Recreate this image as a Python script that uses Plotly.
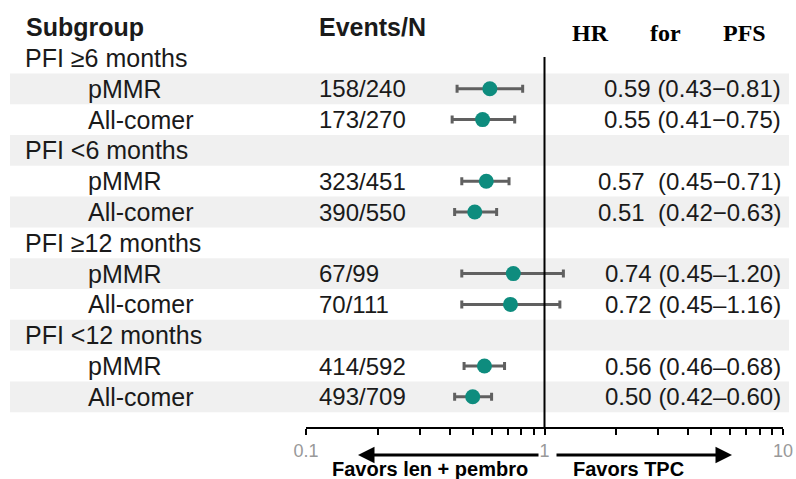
import plotly.graph_objects as go

W, H = 796, 479

groups = ["PFI \u22656 months", "PFI <6 months", "PFI \u226512 months", "PFI <12 months"]
subgroups = ["pMMR", "All-comer"]
events = ["158/240", "173/270", "323/451", "390/550", "67/99", "70/111", "414/592", "493/709"]
hr = [0.59, 0.55, 0.57, 0.51, 0.74, 0.72, 0.56, 0.50]
lo = [0.43, 0.41, 0.45, 0.42, 0.45, 0.45, 0.46, 0.42]
hi = [0.81, 0.75, 0.71, 0.63, 1.20, 1.16, 0.68, 0.60]
hr_text = ["0.59 (0.43\u22120.81)", "0.55 (0.41\u22120.75)",
           "0.57  (0.45\u22120.71)", "0.51  (0.42\u22120.63)",
           "0.74 (0.45\u20131.20)", "0.72 (0.45\u20131.16)",
           "0.56 (0.46\u20130.68)", "0.50 (0.42\u20130.60)"]
tick_vals = [0.1, 0.2, 0.3, 0.4, 0.5, 0.6, 0.7, 0.8, 0.9, 1, 2, 3, 4, 5, 6, 7, 8, 9, 10]
tick_text = ["0.1", "", "", "", "", "", "", "", "", "1", "", "", "", "", "", "", "", "", "10"]

# row layout: group row then two subgroup rows
row_of_group = [0, 3, 6, 9]
data_rows = []
for g in range(4):
    data_rows += [row_of_group[g] + 1, row_of_group[g] + 2]

px_row0, pitch = 58.0, 30.8
y_top = (0 - px_row0) / pitch
y_bot = (H - px_row0) / pitch

def px(x):
    return x / W

def py(y):
    return 1 - y / H

SANS = "Liberation Sans, Arial, sans-serif"

fig = go.Figure()

shapes = []
for r in range(12):
    if r % 2 == 1:
        shapes.append(dict(type="rect", xref="paper", yref="y", x0=px(10), x1=px(789),
                           y0=r - 0.5, y1=r + 0.5, fillcolor="#F0F0F0", line_width=0, layer="below"))
shapes.append(dict(type="line", xref="x", yref="paper", x0=1, x1=1, y0=py(428), y1=py(57),
                   line=dict(color="black", width=2)))

fig.add_trace(go.Scatter(
    x=hr, y=data_rows, mode="markers",
    marker=dict(color="#0E8C7E", size=15, line_width=0),
    error_x=dict(type="data", symmetric=False,
                 array=[h - m for h, m in zip(hi, hr)],
                 arrayminus=[m - l for m, l in zip(hr, lo)],
                 color="#606060", thickness=3, width=4),
    hoverinfo="skip", showlegend=False))

ann = []
hdr_font = dict(family=SANS, size=25, color="#1a1a1a")
ann.append(dict(text="<b>Subgroup</b>", x=px(24), y=-1.0, xanchor="left", font=hdr_font))
ann.append(dict(text="<b>Events/N</b>", x=px(317), y=-1.0, xanchor="left", font=hdr_font))
for t, xc in [("HR", 590), ("for", 665), ("PFS", 744)]:
    ann.append(dict(text="<b>%s</b>" % t, x=px(xc), y=-0.82, xanchor="center",
                    font=dict(family="Liberation Serif, Times New Roman, serif", size=24, color="black")))
lab_font = dict(family=SANS, size=25, color="#1a1a1a")
num_font = dict(family=SANS, size=24, color="#1a1a1a")
for g in range(4):
    ann.append(dict(text=groups[g], x=px(23), y=row_of_group[g], xanchor="left", font=lab_font))
for i, r in enumerate(data_rows):
    ann.append(dict(text=subgroups[i % 2], x=px(86), y=r, xanchor="left", font=lab_font))
    ann.append(dict(text=events[i], x=px(317), y=r, xanchor="left", font=num_font))
    ann.append(dict(text=hr_text[i], x=px(783), y=r, xanchor="right", font=num_font))
for a in ann:
    a.update(xref="paper", yref="y", showarrow=False, yanchor="middle")

# arrows
ann.append(dict(xref="paper", yref="paper", x=px(358), y=py(455), ax=182, ay=0,
                showarrow=True, arrowhead=2, arrowsize=1.1, arrowwidth=3, arrowcolor="black", text=""))
ann.append(dict(xref="paper", yref="paper", x=px(732), y=py(455), ax=-177, ay=0,
                showarrow=True, arrowhead=2, arrowsize=1.1, arrowwidth=3, arrowcolor="black", text=""))
ann.append(dict(xref="paper", yref="paper", x=px(430), y=py(469), text="<b>Favors len + pembro</b>",
                showarrow=False, xanchor="center", yanchor="middle",
                font=dict(family=SANS, size=20, color="black")))
ann.append(dict(xref="paper", yref="paper", x=px(628), y=py(469), text="<b>Favors TPC</b>",
                showarrow=False, xanchor="center", yanchor="middle",
                font=dict(family=SANS, size=20, color="black")))

fig.update_layout(
    width=W, height=H, margin=dict(l=0, r=0, t=0, b=0, autoexpand=False),
    plot_bgcolor="white", paper_bgcolor="white",
    shapes=shapes, annotations=ann,
    xaxis=dict(type="log", range=[-1, 1], domain=[px(306), px(783)],
               anchor="free", position=py(428), automargin=False,
               showline=True, linecolor="black", linewidth=2,
               ticks="outside", ticklen=6, tickwidth=1.5, tickcolor="black",
               tickvals=tick_vals, ticktext=tick_text,
               tickfont=dict(family=SANS, size=18, color="#999999"),
               showgrid=False, zeroline=False),
    yaxis=dict(range=[y_bot, y_top], domain=[0, 1], visible=False, automargin=False,
               showgrid=False, zeroline=False),
)

fig.write_html("out.html", config={"displayModeBar": False},
               post_script="document.body.style.margin='0';document.body.style.overflow='hidden';")
